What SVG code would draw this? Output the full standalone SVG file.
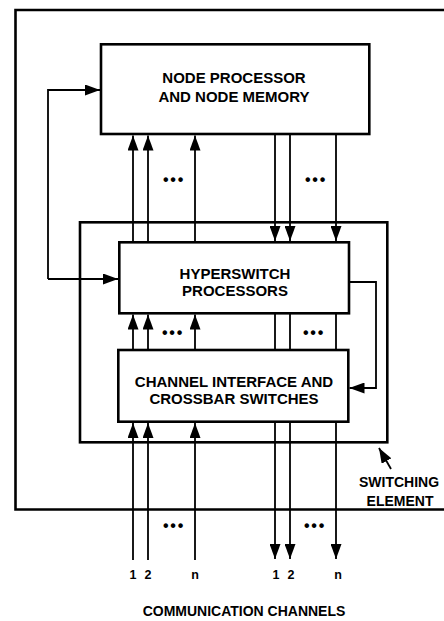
<svg xmlns="http://www.w3.org/2000/svg" width="444" height="621" viewBox="0 0 444 621">
<defs>
<marker id="ah" viewBox="0 0 15 11" refX="15" refY="5.5" markerWidth="15" markerHeight="11" markerUnits="userSpaceOnUse" orient="auto">
<path d="M0,0 L15,5.5 L0,11 Z" fill="#000"/>
</marker>
<style>
.box{fill:#fff;stroke:#000;stroke-width:2.6}
.frame{fill:none;stroke:#000;stroke-width:2.6}
.ln{fill:none;stroke:#000;stroke-width:1.8}
.arr{fill:none;stroke:#000;stroke-width:1.8;marker-end:url(#ah)}
.t{font-family:"Liberation Sans",Arial,sans-serif;font-weight:bold;font-size:15px;text-anchor:middle;fill:#000}
.s{font-size:14px}
.n{font-size:12.5px}
.d{font-family:"Liberation Sans",Arial,sans-serif;font-weight:bold;font-size:16px;letter-spacing:1.8px;text-anchor:middle;fill:#000}
</style>
</defs>
<rect width="444" height="621" fill="#fff"/>
<g id="outer-frame">
<path class="frame" d="M444,10 H15.5 V509.5 H444"/>
</g>
<g id="switching-element">
<rect class="frame" x="80" y="222.3" width="307.3" height="220"/>
<text class="t s" x="399" y="487">SWITCHING</text>
<text class="t s" x="400" y="506">ELEMENT</text>
</g>
<g id="connectors">
<!-- up channels -->
<line class="arr" x1="133" y1="560" x2="133" y2="423"/>
<line class="arr" x1="148" y1="560" x2="148" y2="423"/>
<line class="arr" x1="195" y1="560" x2="195" y2="423"/>
<line class="arr" x1="133" y1="350" x2="133" y2="314.5"/>
<line class="arr" x1="148" y1="350" x2="148" y2="314.5"/>
<line class="arr" x1="195" y1="350" x2="195" y2="314.5"/>
<line class="arr" x1="133" y1="242" x2="133" y2="135.5"/>
<line class="arr" x1="148" y1="242" x2="148" y2="135.5"/>
<line class="arr" x1="195" y1="242" x2="195" y2="135.5"/>
<!-- down channels -->
<line class="arr" x1="275" y1="134" x2="275" y2="241"/>
<line class="arr" x1="290" y1="134" x2="290" y2="241"/>
<line class="arr" x1="336" y1="134" x2="336" y2="241"/>
<line class="ln" x1="275" y1="313" x2="275" y2="350"/>
<line class="ln" x1="290" y1="313" x2="290" y2="350"/>
<line class="ln" x1="336" y1="313" x2="336" y2="350"/>
<line class="arr" x1="275" y1="422" x2="275" y2="559"/>
<line class="arr" x1="290" y1="422" x2="290" y2="559"/>
<line class="arr" x1="336" y1="422" x2="336" y2="559"/>
<!-- feedback loops -->
<path class="arr" d="M48,279 V90 H100"/>
<path class="arr" d="M48,279 H118"/>
<path class="arr" d="M350,282 H376 V388 H349.5"/>
<!-- switching element pointer -->
<line class="arr" x1="391" y1="469" x2="379" y2="448"/>
</g>
<g id="dots">
<text class="d" x="174" y="185">•••</text>
<text class="d" x="316" y="185">•••</text>
<text class="d" x="173" y="338">•••</text>
<text class="d" x="314" y="338">•••</text>
<text class="d" x="174" y="531">•••</text>
<text class="d" x="315" y="531">•••</text>
</g>
<g id="node-processor">
<rect class="box" x="101" y="44.3" width="268.3" height="89.7"/>
<text class="t" x="234" y="82.5">NODE PROCESSOR</text>
<text class="t" x="234" y="102">AND NODE MEMORY</text>
</g>
<g id="hyperswitch-processors">
<rect class="box" x="119.3" y="242.3" width="229.7" height="71"/>
<text class="t" x="235" y="278.5">HYPERSWITCH</text>
<text class="t" x="235" y="295.5">PROCESSORS</text>
</g>
<g id="channel-interface">
<rect class="box" x="118.3" y="350" width="230" height="71.7"/>
<text class="t" x="234" y="387">CHANNEL INTERFACE AND</text>
<text class="t" x="234" y="403.5">CROSSBAR SWITCHES</text>
</g>
<g id="channel-labels">
<text class="t n" x="133" y="579">1</text>
<text class="t n" x="148" y="579">2</text>
<text class="t n" x="195" y="579">n</text>
<text class="t n" x="276" y="579">1</text>
<text class="t n" x="291" y="579">2</text>
<text class="t n" x="338" y="579">n</text>
<text class="t s" x="244" y="616">COMMUNICATION CHANNELS</text>
</g>
</svg>
